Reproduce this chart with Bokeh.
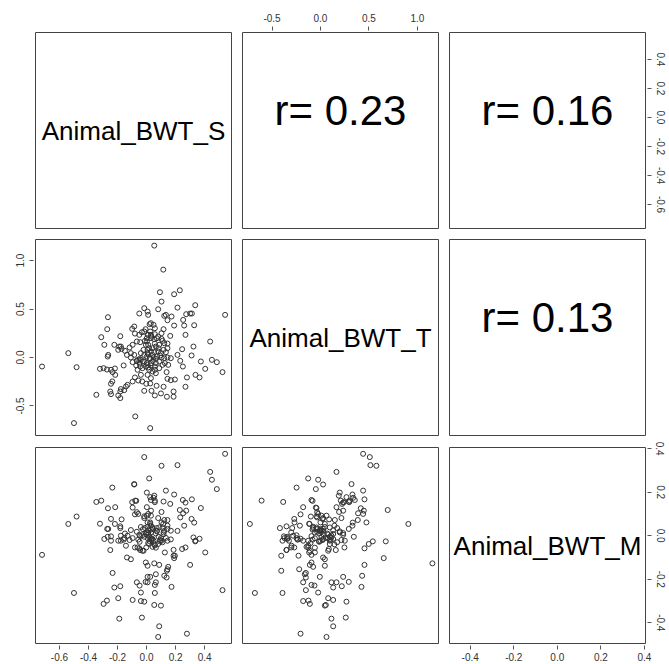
from bokeh.plotting import figure
from bokeh.layouts import gridplot
from bokeh.models import Range1d, FixedTicker, Label, LinearAxis, ColumnDataSource, CustomJSTickFormatter
from bokeh.embed import file_html
from bokeh.resources import INLINE

var_names = ["Animal_BWT_S", "Animal_BWT_T", "Animal_BWT_M"]
r_labels = ["r= 0.23", "r= 0.16", "r= 0.13"]

S = [0.053, 0.115, 0.092, 0.190, 0.229, 0.103, -0.016, 0.007, 0.011, -0.050,
     0.080, 0.213, 0.335, 0.133, 0.122, 0.172, 0.144, 0.300, 0.312, 0.273,
     0.541, -0.266, 0.252, 0.328, 0.190, 0.259, -0.271, -0.181, -0.312, -0.085,
     -0.099, 0.030, 0.048, 0.021, 0.057, -0.007, -0.032, 0.117, 0.163, 0.268,
     0.438, 0.323, 0.245, -0.080, -0.050, -0.016, 0.007, 0.002, 0.030, 0.053,
     0.080, 0.103, 0.122, 0.144, 0.087, 0.064, -0.291, -0.222, -0.188, -0.172,
     -0.149, -0.117, -0.096, -0.067, -0.044, -0.539, -0.264, -0.268, -0.085, -0.057,
     -0.039, -0.016, 0.007, 0.030, 0.053, 0.080, 0.099, 0.117, 0.144, 0.167,
     0.213, 0.232, 0.310, 0.374, 0.450, 0.484, 0.523, 0.404, 0.337, 0.365,
     0.278, -0.720, -0.482, -0.321, -0.296, -0.273, -0.245, -0.218, -0.234, -0.216,
     -0.158, -0.096, -0.071, -0.048, -0.016, 0.007, 0.030, 0.044, 0.064, 0.087,
     0.110, 0.126, 0.149, 0.250, -0.062, -0.028, 0.018, 0.041, 0.064, 0.138,
     -0.236, -0.245, -0.131, -0.142, -0.096, -0.080, -0.057, -0.030, -0.002, 0.030,
     0.025, 0.069, 0.117, 0.144, 0.167, 0.195, 0.268, -0.177, -0.154, -0.181,
     -0.250, -0.245, -0.346, -0.195, -0.181, -0.016, 0.034, 0.057, 0.099, 0.140,
     0.186, 0.186, -0.078, -0.500, 0.025, -0.005, 0.018, 0.041, -0.021, 0.002,
     0.025, 0.048, 0.071, 0.103, -0.067, -0.044, -0.005, -0.108, -0.135, -0.177,
     -0.195, 0.002, 0.030, 0.057, 0.103, 0.025, 0.144, -0.039, 0.007, 0.057,
     0.087, 0.011, 0.034, 0.071, 0.110, 0.011, 0.007, 0.011, 0.021, 0.002,
     0.011, -0.067, -0.048, -0.025, 0.041, 0.064, 0.094, 0.122, -0.011, 0.057,
     0.083, 0.030, 0.057, -0.039, 0.133, -0.108]

T = [1.155, 0.907, 0.674, 0.653, 0.694, 0.577, 0.509, 0.474, 0.440, 0.454,
     0.498, 0.515, 0.540, 0.440, 0.430, 0.423, 0.385, 0.454, 0.454, 0.447,
     0.440, 0.416, 0.388, 0.333, 0.330, 0.330, 0.292, 0.220, 0.210, 0.320,
     0.296, 0.354, 0.337, 0.344, 0.302, 0.292, 0.261, 0.292, 0.223, 0.234,
     0.165, 0.113, 0.086, 0.247, 0.234, 0.268, 0.234, 0.199, 0.199, 0.189,
     0.216, 0.192, 0.148, 0.144, 0.131, 0.113, 0.131, 0.131, 0.113, 0.089,
     0.069, 0.103, 0.131, 0.165, 0.158, 0.045, 0.027, 0.010, 0.027, -0.024,
     -0.024, 0.027, 0.045, 0.062, 0.055, 0.062, 0.045, 0.079, 0.000, -0.007,
     0.027, -0.034, 0.021, -0.041, -0.024, -0.048, -0.151, -0.117, -0.179, -0.206,
     -0.206, -0.093, -0.100, -0.117, -0.110, -0.124, -0.127, -0.113, -0.151, -0.179,
     -0.082, -0.048, -0.082, -0.062, -0.041, -0.076, -0.058, -0.034, -0.058, -0.041,
     -0.076, -0.058, -0.076, -0.093, -0.127, -0.110, -0.127, -0.144, -0.162, -0.151,
     -0.247, -0.271, -0.282, -0.299, -0.247, -0.206, -0.237, -0.247, -0.271, -0.213,
     -0.268, -0.292, -0.302, -0.220, -0.234, -0.227, -0.302, -0.326, -0.337, -0.351,
     -0.351, -0.378, -0.385, -0.392, -0.419, -0.344, -0.344, -0.392, -0.371, -0.405,
     -0.351, -0.405, -0.608, -0.677, -0.729, 0.131, 0.096, 0.096, 0.079, 0.010,
     -0.007, 0.000, 0.010, 0.000, -0.034, -0.093, -0.093, 0.045, 0.027, 0.113,
     0.079, 0.165, 0.234, 0.241, 0.251, 0.268, 0.096, -0.179, -0.179, -0.093,
     -0.110, 0.234, 0.216, 0.199, 0.172, 0.131, 0.079, 0.034, -0.014, -0.058,
     -0.103, -0.034, -0.014, -0.041, 0.027, -0.014, 0.021, -0.007, 0.172, 0.144,
     0.096, -0.082, -0.127, 0.045, 0.055, 0.000]

M = [-0.127, 0.054, -0.026, -0.103, 0.118, 0.321, 0.361, 0.061, 0.100, -0.058,
     -0.038, 0.324, -0.026, 0.207, -0.184, -0.235, 0.072, -0.134, 0.167, 0.115,
     0.376, 0.126, 0.103, 0.060, 0.189, 0.046, 0.031, -0.232, 0.161, 0.237,
     0.154, 0.164, 0.174, -0.005, 0.161, -0.212, -0.376, 0.157, 0.146, 0.152,
     0.293, -0.008, -0.061, -0.054, 0.004, -0.303, -0.189, 0.198, 0.015, 0.184,
     0.081, 0.109, 0.072, 0.046, -0.416, -0.214, -0.015, -0.238, -0.381, 0.075,
     0.010, -0.020, -0.295, -0.214, -0.066, 0.054, 0.031, -0.005, 0.235, 0.100,
     -0.261, 0.081, -0.138, 0.092, -0.318, -0.465, -0.321, 0.006, 0.031, 0.023,
     0.022, 0.084, 0.077, 0.127, 0.257, 0.214, -0.250, -0.077, -0.023, -0.014,
     -0.450, -0.088, 0.088, 0.055, -0.313, -0.298, -0.023, 0.054, -0.171, 0.131,
     -0.018, 0.129, 0.160, -0.229, 0.089, 0.041, -0.012, 0.031, -0.055, 0.038,
     0.035, -0.077, -0.143, 0.164, -0.054, -0.069, 0.263, -0.051, -0.177, -0.192,
     0.221, 0.077, 0.000, -0.046, -0.011, 0.098, -0.018, 0.002, -0.054, 0.046,
     0.061, 0.035, 0.015, -0.154, -0.017, -0.092, -0.054, -0.023, -0.011, 0.043,
     -0.066, -0.003, 0.155, -0.023, 0.035, -0.005, -0.015, -0.263, -0.011, -0.161,
     -0.065, -0.092, 0.161, -0.263, 0.054, 0.008, -0.038, 0.038, -0.069, 0.092,
     -0.189, -0.023, 0.023, 0.061, 0.108, -0.002, -0.123, -0.108, -0.100, 0.000,
     -0.287, 0.131, 0.115, 0.154, -0.023, 0.177, -0.023, -0.300, -0.214, -0.226,
     -0.134, 0.012, -0.020, 0.020, -0.030, 0.025, -0.011, 0.005, -0.025, 0.015,
     -0.034, 0.018, -0.028, 0.030, -0.015, 0.010, -0.020, 0.022, 0.035, -0.040,
     -0.005, 0.028, -0.045, 0.040, -0.010, 0.026]

s_ticks = [-0.6, -0.4, -0.2, 0.0, 0.2, 0.4]
s_tick_labels = ["-0.6", "-0.4", "-0.2", "0.0", "0.2", "0.4"]
t_ticks = [-0.5, 0.0, 0.5, 1.0]
t_tick_labels = ["-0.5", "0.0", "0.5", "1.0"]
m_ticks = [-0.4, -0.2, 0.0, 0.2, 0.4]
m_tick_labels = ["-0.4", "-0.2", "0.0", "0.2", "0.4"]

n = min(len(S), len(T), len(M))
src = ColumnDataSource(dict(S=S[:n], T=T[:n], M=M[:n]))

S_RANGE = (-0.765, 0.585)
T_RANGE = (-0.805, 1.218)
M_RANGE = (-0.495, 0.405)
U_RANGE = (0.0, 1.0)

FRAME = 196
LB = [35, 6, 6]
RB = [5, 5, 22]
TB = [32, 6, 6]
BB = [5, 6, 20]

FONT = "Liberation Sans"


def make_panel(r, c, xr, yr):
    p = figure(width=LB[c] + FRAME + RB[c], height=TB[r] + FRAME + BB[r],
               x_range=Range1d(*xr), y_range=Range1d(*yr),
               output_backend="svg", toolbar_location=None,
               x_axis_location=None, y_axis_location=None,
               min_border_left=LB[c], min_border_right=RB[c],
               min_border_top=TB[r], min_border_bottom=BB[r])
    p.grid.visible = False
    p.outline_line_color = "#444444"
    p.outline_line_width = 1
    p.background_fill_color = "white"
    p.border_fill_color = "white"
    return p


def add_axis(p, side, ticks, labels, standoff=5):
    ax = LinearAxis(ticker=FixedTicker(ticks=ticks),
                    formatter=CustomJSTickFormatter(
                        args=dict(tv=ticks, tl=labels),
                        code="const i = tv.findIndex(t => Math.abs(t - tick) < 1e-9); return i >= 0 ? tl[i] : '';"))
    ax.axis_line_color = None
    ax.major_tick_in = -2
    ax.major_tick_out = 6
    ax.major_tick_line_color = "#555555"
    ax.minor_tick_line_color = None
    ax.major_label_text_font = FONT
    ax.major_label_text_font_size = "10px"
    ax.major_label_text_color = "#333333"
    ax.major_label_standoff = standoff
    if side in ("left", "right"):
        ax.major_label_orientation = "vertical"
    p.add_layout(ax, side)


def center_label(p, xr, yr, text, size, yoff=0):
    p.add_layout(Label(x=(xr[0] + xr[1]) / 2, y=(yr[0] + yr[1]) / 2, text=text,
                       text_align="center", text_baseline="middle", y_offset=yoff,
                       text_font=FONT, text_font_size=size, text_color="black"))


def scatter(p, xcol, ycol):
    p.scatter(x=xcol, y=ycol, source=src, marker="circle", size=5,
              fill_color=None, line_color="#333333", line_width=1)


# Row 1
p00 = make_panel(0, 0, U_RANGE, U_RANGE)
center_label(p00, U_RANGE, U_RANGE, var_names[0], "26px")

p01 = make_panel(0, 1, T_RANGE, S_RANGE)
center_label(p01, T_RANGE, S_RANGE, r_labels[0], "42px", yoff=20)
add_axis(p01, "above", t_ticks, t_tick_labels)

p02 = make_panel(0, 2, M_RANGE, S_RANGE)
center_label(p02, M_RANGE, S_RANGE, r_labels[1], "42px", yoff=20)
add_axis(p02, "right", s_ticks, s_tick_labels)

# Row 2
p10 = make_panel(1, 0, S_RANGE, T_RANGE)
scatter(p10, "S", "T")
add_axis(p10, "left", t_ticks, t_tick_labels)

p11 = make_panel(1, 1, U_RANGE, U_RANGE)
center_label(p11, U_RANGE, U_RANGE, var_names[1], "26px")

p12 = make_panel(1, 2, M_RANGE, T_RANGE)
center_label(p12, M_RANGE, T_RANGE, r_labels[2], "42px", yoff=20)

# Row 3
p20 = make_panel(2, 0, S_RANGE, M_RANGE)
scatter(p20, "S", "M")
add_axis(p20, "below", s_ticks, s_tick_labels, standoff=3)

p21 = make_panel(2, 1, T_RANGE, M_RANGE)
scatter(p21, "T", "M")

p22 = make_panel(2, 2, M_RANGE, M_RANGE)
center_label(p22, M_RANGE, M_RANGE, var_names[2], "26px")
add_axis(p22, "below", m_ticks, m_tick_labels, standoff=3)
add_axis(p22, "right", m_ticks, m_tick_labels)

grid = gridplot([[p00, p01, p02], [p10, p11, p12], [p20, p21, p22]],
                toolbar_location=None)

open("out.html", "w").write(file_html(grid, INLINE))
